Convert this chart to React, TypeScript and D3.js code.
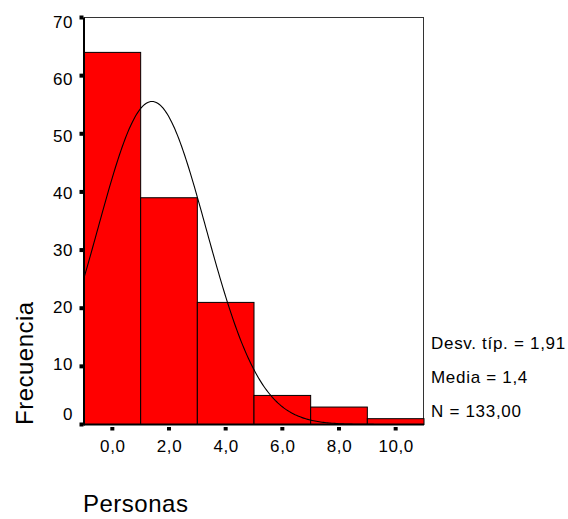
import React from "react";
import * as d3 from "d3";

const binCenters = [0, 2, 4, 6, 8, 10];
const frequencies = [64, 39, 21, 5, 3, 1];
const yTicks = [0, 10, 20, 30, 40, 50, 60, 70];
const xTickLabels = ["0,0", "2,0", "4,0", "6,0", "8,0", "10,0"];
const statsLines = ["Desv. típ. = 1,91", "Media = 1,4", "N = 133,00"];
const stdDev = 1.91;
const mean = 1.4;
const nTotal = 133;
const binWidth = 2;

const W = 568;
const H = 519;
const FONT = "'Liberation Sans', Arial, sans-serif";

export default function App() {
  const x = d3.scaleLinear().domain([-1, 11]).range([84, 424]);
  const y = d3.scaleLinear().domain([0, 70]).range([424.5, 17.5]);

  const normal = (v: number) =>
    (nTotal * binWidth) / (stdDev * Math.sqrt(2 * Math.PI)) *
    Math.exp(-((v - mean) ** 2) / (2 * stdDev * stdDev));
  const curvePts = d3.range(-1, 11.0001, 0.05).map((v) => [v, normal(v)] as [number, number]);
  const line = d3
    .line<[number, number]>()
    .x((d) => x(d[0]))
    .y((d) => y(d[1]))
    .curve(d3.curveLinear);

  return (
    <svg
      width={W}
      height={H}
      style={{ position: "absolute", left: 0, top: 0, background: "#fff" }}
      fontFamily={FONT}
    >
      <rect x={0} y={0} width={W} height={H} fill="#fff" />
      {/* frame */}
      <line x1={x(-1)} x2={x(11)} y1={y(70)} y2={y(70)} stroke="#333" strokeWidth={1} />
      <line x1={x(11) - 0.5} x2={x(11) - 0.5} y1={y(70)} y2={y(0)} stroke="#333" strokeWidth={1} />
      {/* bars */}
      {binCenters.map((c, i) => (
        <rect
          key={c}
          x={x(c - binWidth / 2)}
          y={y(frequencies[i])}
          width={x(c + binWidth / 2) - x(c - binWidth / 2)}
          height={y(0) - y(frequencies[i])}
          fill="#ff0000"
          stroke="#000"
          strokeWidth={1}
        />
      ))}
      {/* normal curve */}
      <path d={line(curvePts) || ""} fill="none" stroke="#000" strokeWidth={1.1} />
      {/* axes */}
      <line x1={x(-1)} x2={x(-1)} y1={y(70)} y2={y(0) + 1} stroke="#000" strokeWidth={2} />
      <line x1={x(-1)} x2={x(11)} y1={y(0)} y2={y(0)} stroke="#000" strokeWidth={2} />
      {/* y ticks */}
      {yTicks.map((t) => (
        <g key={t}>
          <rect x={x(-1) - 4.5} y={y(t) - 2} width={4} height={4} fill="#000" />
          <text
            x={73}
            y={t === 0 ? y(t) - 4.5 : y(t) + 10 - (70 - t) * 0.1}
            textAnchor="end"
            fontSize={17}
            letterSpacing={0.6}
            fill="#000"
          >
            {t}
          </text>
        </g>
      ))}
      {/* x ticks */}
      {binCenters.map((c, i) => (
        <g key={c}>
          <rect x={x(c) - 2} y={y(0) + 2.5} width={4} height={3.5} fill="#000" />
          <text x={x(c) + 0.5} y={452} textAnchor="middle" fontSize={17} letterSpacing={0.6} fill="#000">
            {xTickLabels[i]}
          </text>
        </g>
      ))}
      {/* axis titles */}
      <text x={83} y={512} fontSize={24} letterSpacing={0.5} fill="#000">
        Personas
      </text>
      <text
        transform="translate(33,425) rotate(-90)"
        x={0}
        y={0}
        fontSize={24}
        letterSpacing={0.5}
        fill="#000"
      >
        Frecuencia
      </text>
      {/* stats */}
      {statsLines.map((s, i) => (
        <text key={s} x={431} y={348.5 + i * 34} fontSize={17} letterSpacing={0.7} fill="#000">
          {s}
        </text>
      ))}
    </svg>
  );
}
